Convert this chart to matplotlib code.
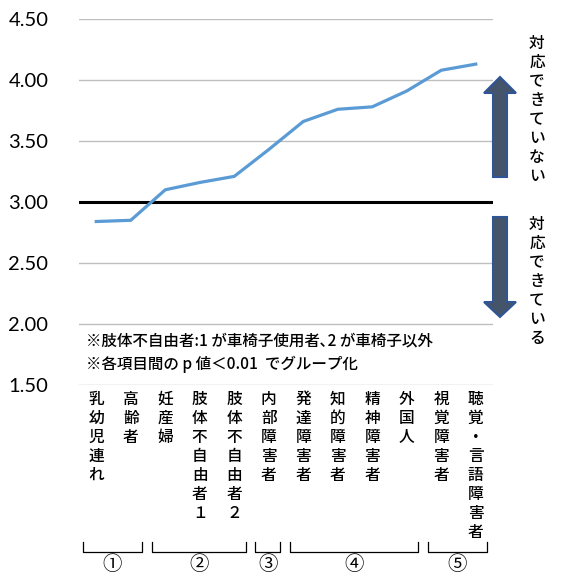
import matplotlib
matplotlib.use("Agg")
import matplotlib.pyplot as plt
import matplotlib.patches as mpatches
import matplotlib.transforms as mtransforms

plt.rcParams['font.family'] = ['Noto Sans CJK JP', 'DejaVu Sans']

W, H = 561, 582

labels = ["乳幼児連れ", "高齢者", "妊産婦", "肢体不自由者１", "肢体不自由者２",
          "内部障害者", "発達障害者", "知的障害者", "精神障害者", "外国人",
          "視覚障害者", "聴覚・言語障害者"]
scores = [2.84, 2.85, 3.10, 3.16, 3.21, 3.43, 3.66, 3.76, 3.78, 3.91, 4.08, 4.13]
yticks = [1.5, 2.0, 2.5, 3.0, 3.5, 4.0, 4.5]

# groups by index range (p < 0.01)
groups = [(0, 1, "①"), (2, 4, "②"), (5, 5, "③"), (6, 9, "④"), (10, 11, "⑤")]

notes = ["※肢体不自由者:1 が車椅子使用者､2 が車椅子以外",
         "※各項目間の p 値＜0.01  でグループ化"]


def px(x, y):
    # pixel position -> figure fraction
    return (x / W, 1 - y / H)


fig = plt.figure(figsize=(W / 100, H / 100), dpi=100)
ax = fig.add_axes([79 / W, 1 - 385 / H, 414 / W, 366 / H])

x = list(range(len(scores)))
ax.set_xlim(-0.5, len(scores) - 0.5)
ax.set_ylim(1.5, 4.5)
for v in yticks:
    if v != 3.0:
        ax.axhline(v, color='#BFBFBF', lw=1, zorder=1)
ax.axhline(3.0, color='black', lw=2.2, zorder=2)
ax.plot(x, scores, color='#5B9BD5', lw=2.3, zorder=3, solid_joinstyle='miter')

ax.set_yticks(yticks)
ax.set_yticklabels(["%.2f" % v for v in yticks], family='Lato', fontsize=14.5)
ax.tick_params(axis='y', length=0, pad=22)
ax.set_xticks([])
for s in ax.spines.values():
    s.set_visible(False)

# vertical category labels
trans = mtransforms.blended_transform_factory(ax.transData, fig.transFigure)
for i, lab in enumerate(labels):
    ax.text(i, 1 - 391 / H, "\n".join(lab), transform=trans, ha='center', va='top',
            fontsize=11.3, fontweight='medium', linespacing=1.15, clip_on=False)

# group brackets
y_top, y_bot = 1 - 541.5 / H, 1 - 552 / H
for a, b, name in groups:
    x0, x1 = a - 0.39, b + 0.33
    ax.plot([x0, x0, x1, x1], [y_top, y_bot, y_bot, y_top], transform=trans,
            color='black', lw=0.9, clip_on=False)
    ax.text((x0 + x1) / 2, 1 - 565 / H, name, transform=trans, ha='center',
            va='center', fontsize=14, clip_on=False)

# notes inside the plot
fig.text(*px(86, 341), notes[0], fontsize=11.2, fontweight='medium',
         va='center', ha='left')
fig.text(*px(86, 364), notes[1], fontsize=11.2, fontweight='medium',
         va='center', ha='left')

# arrows on the right
def arrow(tip, base, head_base):
    cx = 500
    pts = [(cx, tip), (516, head_base), (507, head_base), (507, base),
           (493, base), (493, head_base), (484, head_base)]
    poly = mpatches.Polygon([px(*p) for p in pts], closed=True,
                            transform=fig.transFigure, facecolor='#44546A',
                            edgecolor='#2F5597', lw=1.5)
    fig.patches.append(poly)

arrow(77, 177, 93)
arrow(317, 217, 302)

fig.text(*px(537, 35), "\n".join("対応できていない"), ha='center', va='top',
         fontsize=11.3, fontweight='medium', linespacing=1.15)
fig.text(*px(537, 216), "\n".join("対応できている"), ha='center', va='top',
         fontsize=11.3, fontweight='medium', linespacing=1.15)

fig.savefig("out.png", dpi=100)
